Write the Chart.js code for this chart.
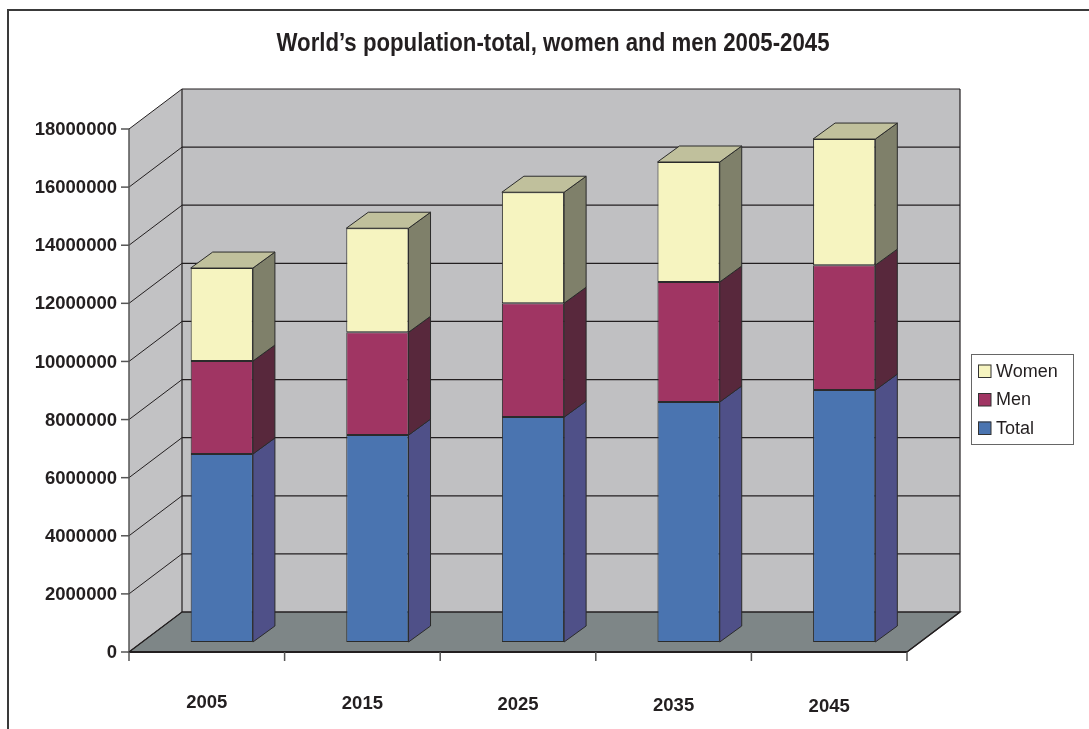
<!DOCTYPE html>
<html>
<head>
<meta charset="utf-8">
<script src="https://cdn.jsdelivr.net/npm/chart.js@4.4.1/dist/chart.umd.min.js"></script>
<style>
  html, body { margin: 0; padding: 0; background: #fff; }
  #wrap { width: 1089px; height: 729px; position: relative; }
</style>
</head>
<body>
<div id="wrap"><canvas id="popChart"></canvas></div>
<script>
/* ── data ── */
const years  = ['2005', '2015', '2025', '2035', '2045'];
const total  = [6470000, 7120000, 7740000, 8260000, 8670000];
const men    = [3200000, 3540000, 3920000, 4130000, 4300000];
const women  = [3200000, 3580000, 3820000, 4130000, 4340000];
const yTicks = [0, 2000000, 4000000, 6000000, 8000000, 10000000, 12000000, 14000000, 16000000, 18000000];

const TITLE = 'World\u2019s population-total, women and men 2005-2045';

/* ── 3D box geometry, relative to the plane the columns stand in ── */
const FRONT = { dx: -15, dy: 10 };
const BACK  = { dx: 38,  dy: -30 };
const DEPTH = { dx: 22,  dy: -16 };

const INK       = '#231f20';
const WALL      = '#c0c0c2';
const SIDE_WALL = '#c2c2c4';
const FLOOR     = '#7e8687';
const BOLD      = 'bold 18.5px "Liberation Sans", Arial, sans-serif';

const SERIES = [
  { label: 'Total', data: total, front: '#4a74b0', side: '#4f5088', top: '#6a7fb8' },
  { label: 'Men',   data: men,   front: '#a03563', side: '#58283c', top: '#7a3050' },
  { label: 'Women', data: women, front: '#f6f4c0', side: '#7f806a', top: '#c0c09c' },
];

function poly(ctx, pts, fill, stroke, lw) {
  ctx.beginPath();
  ctx.moveTo(pts[0][0], pts[0][1]);
  for (let i = 1; i < pts.length; i++) ctx.lineTo(pts[i][0], pts[i][1]);
  ctx.closePath();
  if (fill) { ctx.fillStyle = fill; ctx.fill(); }
  if (stroke) { ctx.strokeStyle = stroke; ctx.lineWidth = lw || 1; ctx.stroke(); }
}

function line(ctx, x1, y1, x2, y2, color, lw) {
  ctx.beginPath();
  ctx.moveTo(x1, y1);
  ctx.lineTo(x2, y2);
  ctx.strokeStyle = color;
  ctx.lineWidth = lw || 1;
  ctx.stroke();
}

/* walls, floor, gridlines and axes drawn behind the columns */
const box3d = {
  id: 'box3d',
  beforeDatasetsDraw(chart) {
    const { ctx, chartArea: a, scales: { x, y } } = chart;
    const top = y.getPixelForValue(yTicks[yTicks.length - 1]);
    const bot = y.getPixelForValue(0);
    const L = a.left, R = a.right;
    ctx.save();

    // outer frame
    ctx.strokeStyle = '#3a3a3a';
    ctx.lineWidth = 2;
    ctx.strokeRect(8, 10, 1200, 900);

    // title, squeezed to a narrow bold face
    ctx.save();
    ctx.fillStyle = INK;
    ctx.font = 'bold 25px "Liberation Sans", Arial, sans-serif';
    ctx.textAlign = 'center';
    ctx.textBaseline = 'alphabetic';
    const sx = 553 / ctx.measureText(TITLE).width;
    ctx.translate(553, 51);
    ctx.scale(sx, 1);
    ctx.fillText(TITLE, 0, 0);
    ctx.restore();

    // left side wall
    poly(ctx, [
      [L + FRONT.dx, bot + FRONT.dy], [L + FRONT.dx, top + FRONT.dy],
      [L + BACK.dx, top + BACK.dy], [L + BACK.dx, bot + BACK.dy]
    ], SIDE_WALL);
    // back wall
    poly(ctx, [
      [L + BACK.dx, top + BACK.dy], [R + BACK.dx, top + BACK.dy],
      [R + BACK.dx, bot + BACK.dy], [L + BACK.dx, bot + BACK.dy]
    ], WALL);
    // floor
    poly(ctx, [
      [L + FRONT.dx, bot + FRONT.dy], [R + FRONT.dx, bot + FRONT.dy],
      [R + BACK.dx, bot + BACK.dy], [L + BACK.dx, bot + BACK.dy]
    ], FLOOR, INK, 1.2);

    // gridlines on back and side wall
    yTicks.forEach(v => {
      const py = y.getPixelForValue(v);
      line(ctx, L + BACK.dx, py + BACK.dy, R + BACK.dx, py + BACK.dy, INK, 1.2);
      line(ctx, L + FRONT.dx, py + FRONT.dy, L + BACK.dx, py + BACK.dy, INK, 1);
    });
    line(ctx, L + BACK.dx, top + BACK.dy, L + BACK.dx, bot + BACK.dy, INK, 1.2);
    line(ctx, R + BACK.dx, top + BACK.dy, R + BACK.dx, bot + BACK.dy, INK, 1.2);
    line(ctx, R + FRONT.dx, bot + FRONT.dy, R + BACK.dx, bot + BACK.dy, INK, 1.2);

    // value axis
    line(ctx, L + FRONT.dx, top + FRONT.dy, L + FRONT.dx, bot + FRONT.dy, '#555', 1.5);
    ctx.font = BOLD;
    ctx.textAlign = 'right';
    ctx.textBaseline = 'middle';
    ctx.fillStyle = INK;
    yTicks.forEach(v => {
      const py = y.getPixelForValue(v) + FRONT.dy;
      line(ctx, L + FRONT.dx - 8, py, L + FRONT.dx, py, '#555', 1.5);
      ctx.fillText(String(v), L + FRONT.dx - 12, py + 1);
    });

    // category axis
    const by = bot + FRONT.dy;
    line(ctx, L + FRONT.dx, by, R + FRONT.dx, by, INK, 2);
    const step = x.getPixelForValue(1) - x.getPixelForValue(0);
    for (let i = 0; i <= years.length; i++) {
      const px = x.getPixelForValue(0) - step / 2 + i * step + FRONT.dx;
      line(ctx, px, by, px, by + 9, '#555', 1.5);
    }
    ctx.textAlign = 'center';
    years.forEach((yr, i) => {
      ctx.fillText(yr, x.getPixelForValue(i) + FRONT.dx, 703 + i);
    });
    ctx.restore();
  },

  /* side and top faces of each column */
  afterDatasetsDraw(chart) {
    const ctx = chart.ctx;
    const last = chart.data.datasets.length - 1;
    ctx.save();
    chart.data.datasets.forEach((ds, di) => {
      const s = SERIES[di];
      chart.getDatasetMeta(di).data.forEach(bar => {
        const p = bar.getProps(['x', 'y', 'base', 'width'], true);
        const l = p.x - p.width / 2, r = p.x + p.width / 2;
        const t = Math.min(p.y, p.base), b = Math.max(p.y, p.base);
        poly(ctx, [[r, t], [r + DEPTH.dx, t + DEPTH.dy], [r + DEPTH.dx, b + DEPTH.dy], [r, b]], s.side, '#2b2b2b', 1);
        if (di === last) {
          poly(ctx, [[l, t], [l + DEPTH.dx, t + DEPTH.dy], [r + DEPTH.dx, t + DEPTH.dy], [r, t]], s.top, '#2b2b2b', 1);
        }
      });
    });

    // legend
    ctx.fillStyle = '#fff';
    ctx.fillRect(971, 354, 102, 90);
    ctx.strokeStyle = '#666';
    ctx.lineWidth = 1;
    ctx.strokeRect(971.5, 354.5, 102, 90);
    ctx.font = '18px "Liberation Sans", Arial, sans-serif';
    ctx.textAlign = 'left';
    ctx.textBaseline = 'middle';
    [...SERIES].reverse().forEach((s, i) => {
      const cy = 371 + i * 28.5;
      ctx.fillStyle = s.front;
      ctx.fillRect(978, cy - 6.5, 13, 13);
      ctx.strokeStyle = '#333';
      ctx.strokeRect(978.5, cy - 6, 12.5, 12.5);
      ctx.fillStyle = INK;
      ctx.fillText(s.label, 996, cy + 1);
    });
    ctx.restore();
  }
};

new Chart(document.getElementById('popChart'), {
  type: 'bar',
  data: {
    labels: years,
    datasets: SERIES.map(s => ({
      label: s.label,
      data: s.data,
      backgroundColor: s.front,
      borderColor: '#2b2b2b',
      borderWidth: 1,
      borderSkipped: false,
      categoryPercentage: 1,
      barPercentage: 0.4,
    }))
  },
  options: {
    responsive: true,
    maintainAspectRatio: false,
    animation: false,
    layout: { padding: { left: 144, right: 167, top: 119, bottom: 87 } },
    plugins: {
      legend: { display: false },
      title: { display: false },
      tooltip: { enabled: false },
    },
    scales: {
      x: { stacked: true, display: false },
      y: { stacked: true, display: false, min: 0, max: 18000000 },
    }
  },
  plugins: [box3d]
});
</script>
</body>
</html>
